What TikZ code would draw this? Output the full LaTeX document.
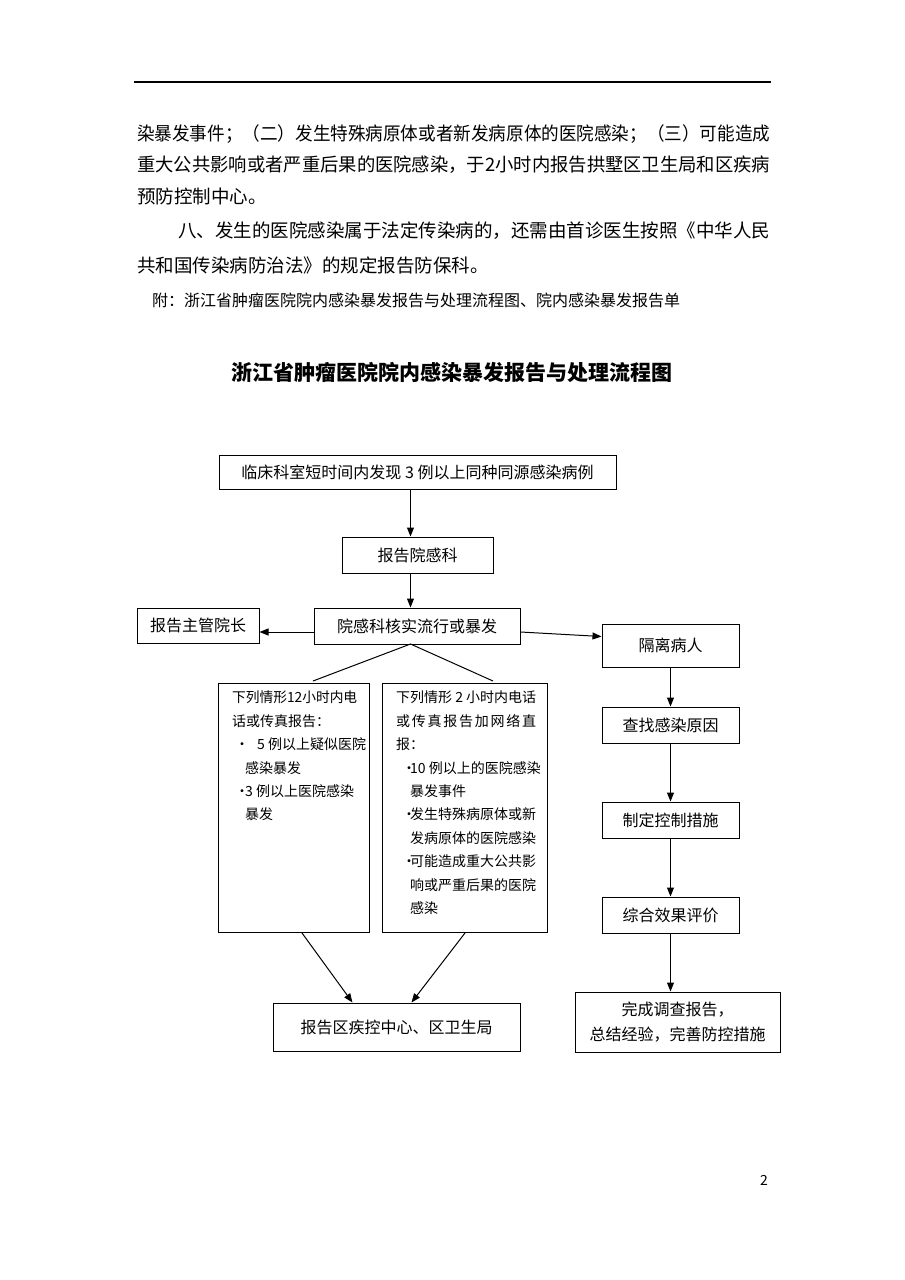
\documentclass[tikz,border=0pt]{standalone}
\usepackage{fontspec}
\usepackage{graphicx}
\setmainfont{Noto Sans CJK SC}
\usetikzlibrary{arrows.meta}

\begin{document}
\begin{tikzpicture}[
	x=1pt, y=-1pt, % page measured in pixels, from the top
	>={Triangle[length=9pt,width=7pt]}, % filled arrow heads
	every node/.style={inner sep=0pt},
	box/.style={draw, line width=1pt, minimum height=35pt, font=\fontsize{16}{16}\selectfont},
	flow/.style={->, line width=1pt},
	body/.style={anchor=west, font=\fontsize{18.5}{18.5}\selectfont},
	cases/.style={anchor=north west, align=left, font=\fontsize{14}{23.4}\selectfont}
]
\path[use as bounding box, fill=white] (0,0) rectangle (905,1280);

% page head and running text
\coordinate (headl) at (134,82);
\coordinate (headr) at (771,82);
\draw[line width=1.3pt] (headl) -- (headr);
\node[body] (line1) at (137,134) {\resizebox{633pt}{\height}{染暴发事件；（二）发生特殊病原体或者新发病原体的医院感染；（三）可能造成}};
\node[body] (line2) at (137,165) {\resizebox{633pt}{\height}{重大公共影响或者严重后果的医院感染，于2小时内报告拱墅区卫生局和区疾病}};
\node[body] (line3) at (137,196) {预防控制中心。};
\node[body] (line4) at (178,231) {\resizebox{592pt}{\height}{八、发生的医院感染属于法定传染病的，还需由首诊医生按照《中华人民}};
\node[body] (line5) at (137,265) {共和国传染病防治法》的规定报告防保科。};
\node[anchor=west, font=\fontsize{16}{16}\selectfont] (note) at (152,300) {附：浙江省肿瘤医院院内感染暴发报告与处理流程图、院内感染暴发报告单};
\node[font=\fontsize{21}{21}\selectfont\bfseries] (title) at (452,372) {浙江省肿瘤医院院内感染暴发报告与处理流程图};

% main column
\node[box, minimum width=397pt, minimum height=34pt] (found) at (417.5,472) {临床科室短时间内发现 3 例以上同种同源感染病例};
\node[box, minimum width=151pt, minimum height=36pt] (tell) at (417.5,555) {报告院感科};
\node[box, minimum width=206pt, minimum height=36pt] (check) at (417,626) {院感科核实流行或暴发};
\node[box, minimum width=122pt] (head) at (198,625.5) {报告主管院长};

% the two cases
\coordinate (split) at (410.5,644);
\coordinate (splitl) at (313,681);
\coordinate (splitr) at (493,681);
\node[draw, line width=1pt, minimum width=151pt, minimum height=249pt, anchor=north west] (twelve) at (218,683) {};
\node[draw, line width=1pt, minimum width=165pt, minimum height=249pt, anchor=north west] (two) at (382,683) {};
\node[cases] (twelvetext) at (232,691) {\resizebox{125pt}{\height}{下列情形12小时内电}\\
	话或传真报告：\\
	\hspace*{3pt}\makebox[10pt][l]{•}\hspace*{12pt}5 例以上疑似医院\\
	\hspace*{13pt}感染暴发\\
	\hspace*{3pt}\makebox[10pt][l]{•}3 例以上医院感染\\
	\hspace*{13pt}暴发};
\node[cases] (twotext) at (396,691) {\resizebox{140pt}{\height}{下列情形 2 小时内电话}\\
	\makebox[140pt][s]{或\hfill 传\hfill 真\hfill 报\hfill 告\hfill 加\hfill 网\hfill 络\hfill 直}\\
	报：\\
	\hspace*{6pt}\makebox[8pt][l]{•}10 例以上的医院感染\\
	\hspace*{14pt}暴发事件\\
	\hspace*{6pt}\makebox[8pt][l]{•}发生特殊病原体或新\\
	\hspace*{14pt}发病原体的医院感染\\
	\hspace*{6pt}\makebox[8pt][l]{•}可能造成重大公共影\\
	\hspace*{14pt}响或严重后果的医院\\
	\hspace*{14pt}感染};
\node[box, minimum width=247pt, minimum height=48pt] (district) at (396.5,1027) {报告区疾控中心、区卫生局};

% right column
\node[box, minimum width=137pt, minimum height=43pt] (isolate) at (670.5,645.5) {隔离病人};
\node[box, minimum width=137pt, minimum height=36pt] (cause) at (670.5,725) {查找感染原因};
\node[box, minimum width=137pt, minimum height=36pt] (measure) at (670.5,820) {制定控制措施};
\node[box, minimum width=137pt, minimum height=36pt] (judge) at (670.5,915) {综合效果评价};
\node[box, minimum width=205pt, minimum height=60pt, align=center, font=\fontsize{16}{25}\selectfont] (done) at (677.5,1022) {完成调查报告，\\总结经验，完善防控措施};

\node[font=\fontsize{14}{14}\selectfont] (page) at (764,1180) {2};

\draw[flow] (found.south -| split) -- (tell.north -| split);
\draw[flow] (tell.south -| split) -- (check.north -| split);
\draw[flow] ([yshift=-6pt]check.west) -- ([yshift=-6pt]check.west -| head.east);
\draw[flow] ([yshift=-6pt]check.east) -- ([yshift=9pt]isolate.west);
\draw[line width=1pt] (splitl) -- (split) -- (splitr);
\draw[flow] ([xshift=8pt]twelve.south) -- ([xshift=-44pt]district.north);
\draw[flow] (two.south) -- ([xshift=15pt]district.north);
\draw[flow] (isolate) -- (cause);
\draw[flow] (cause) -- (measure);
\draw[flow] (measure) -- (judge);
\draw[flow] (judge.south) -- (judge.south |- done.north);
\end{tikzpicture}
\end{document}
